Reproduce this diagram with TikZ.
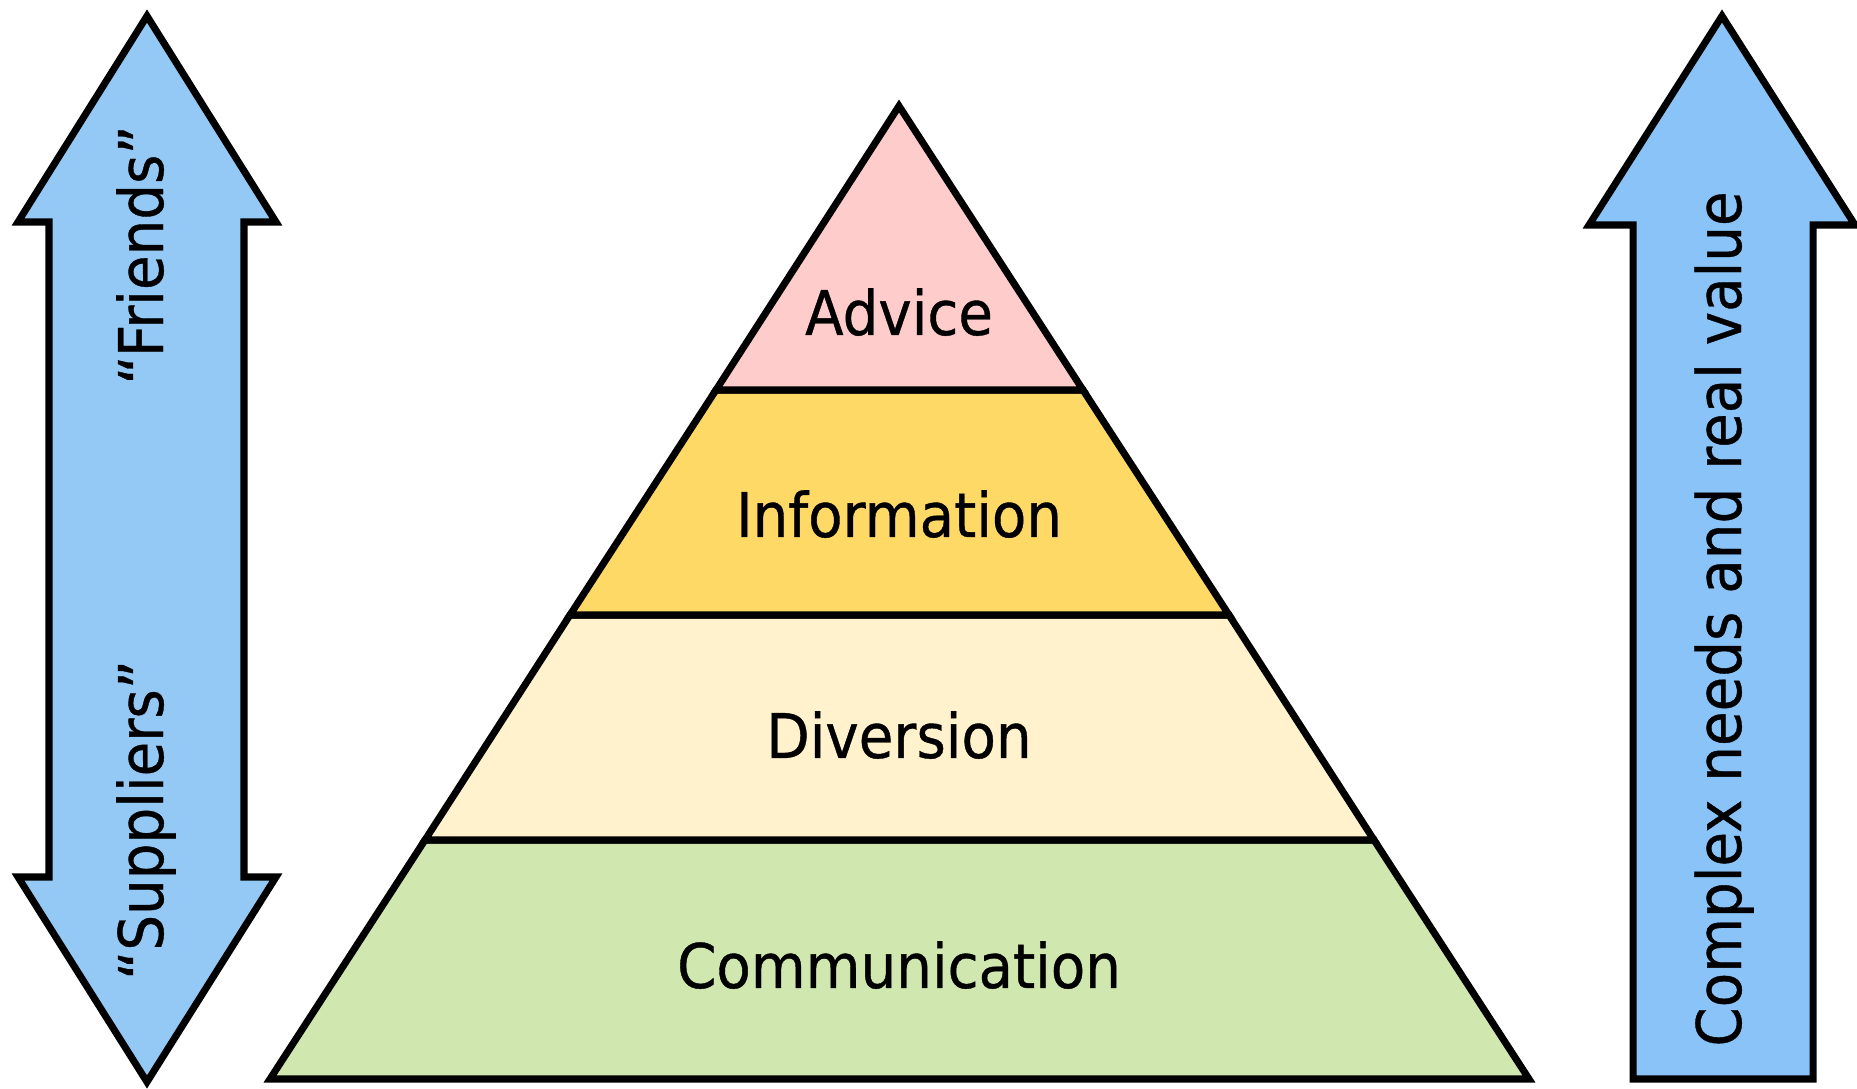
\documentclass[tikz,border=0pt]{standalone}
\usepackage{fontspec}
\setmainfont{DejaVu Sans}[FakeStretch=0.915,FakeBold=0.6]
\usepackage{tikz}

\definecolor{advicepink}{RGB}{255,204,204}
\definecolor{infoyellow}{RGB}{255,217,102}
\definecolor{diverscream}{RGB}{255,242,204}
\definecolor{commgreen}{RGB}{208,232,176}
\definecolor{leftblue}{RGB}{148,201,246}
\definecolor{rightblue}{RGB}{138,195,247}

\begin{document}
\begin{tikzpicture}[x=0.01cm,y=-0.01cm,
  outline/.style={draw=black,line width=2pt,line join=miter,miter limit=10},
  layertext/.style={font=\fontsize{17.5}{20}\selectfont,inner sep=0pt,anchor=base},
  sidetext/.style={layertext,rotate=90}]
\useasboundingbox (0,0) rectangle (1857,1089);

\draw [outline,fill=leftblue] (147,16) -- (276,222) -- (244,222) -- (244,877) -- (276,877) -- (147,1082) -- (18,877) -- (49,877) -- (49,222) -- (18,222) -- cycle;
\node [sidetext] (friends) at (163,255) {“Friends”};
\node [sidetext] (suppliers) at (163,820) {“Suppliers”};

\draw [outline,fill=rightblue] (1722,16) -- (1855,225) -- (1813,225) -- (1813,1079) -- (1633,1079) -- (1633,225) -- (1589,225) -- cycle;
\node [sidetext] (value) at (1741,619) {Complex needs and real value};

\draw [outline,fill=commgreen] (425,840) -- (1374,840) -- (1529,1079) -- (270,1079) -- cycle;
\draw [outline,fill=diverscream] (570,615) -- (1229,615) -- (1374,840) -- (425,840) -- cycle;
\draw [outline,fill=infoyellow] (716,390) -- (1083,390) -- (1229,615) -- (570,615) -- cycle;
\draw [outline,fill=advicepink] (899,106) -- (1083,390) -- (716,390) -- cycle;

\node [layertext] (advice) at (899,335) {Advice};
\node [layertext] (information) at (899,537) {Information};
\node [layertext] (diversion) at (899,758) {Diversion};
\node [layertext] (communication) at (899,988) {Communication};

\end{tikzpicture}
\end{document}
